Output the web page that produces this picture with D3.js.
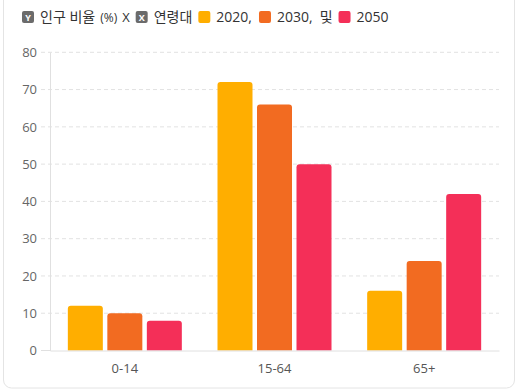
<!DOCTYPE html>
<html><head><meta charset="utf-8">
<script src="https://cdn.jsdelivr.net/npm/d3@7"></script>
<style>
html,body{margin:0;padding:0;background:#fff;}
svg{display:block;}
text{font-family:"Open Sans","Noto Sans CJK KR",sans-serif;}
</style></head>
<body><svg id="c" width="520" height="390"></svg>
<script>
const categories = ["0-14", "15-64", "65+"];
const seriesNames = ["2020", "2030", "2050"];
const values2020 = [12, 72, 16];
const values2030 = [10, 66, 24];
const values2050 = [8, 50, 42];
const yTicks = [0, 10, 20, 30, 40, 50, 60, 70, 80];
const colors = ["#FFAE00", "#F26B21", "#F42F58"];

(function () {
const seriesValues = [values2020, values2030, values2050];
const svg = d3.select("#c");

// frame
svg.append("rect").attr("x", 3.5).attr("y", -10).attr("width", 511).attr("height", 398)
  .attr("rx", 8).attr("fill", "none").attr("stroke", "#e4e4e4");

const pLeft = 50, pRight = 499, pTop = 52.3, pBottom = 350.5;
const x0 = d3.scaleBand().domain(categories).range([pLeft, pRight]).padding(0);
const barW = 35, barStep = 39.5;
const half = (barStep * 2 + barW) / 2;
const x1 = d3.scaleBand().domain(seriesNames)
  .range([-half, half])
  .paddingInner((barStep - barW) / barStep).paddingOuter(0);
const y = d3.scaleLinear().domain([0, 80]).range([pBottom, pTop]);

// grid lines
const grid = svg.append("g");
grid.selectAll("line").data(yTicks.filter(d => d > 0)).join("line")
  .attr("x1", 41).attr("x2", pRight).attr("y1", d => y(d)).attr("y2", d => y(d))
  .attr("stroke", "#e2e2e2").attr("stroke-dasharray", "4,3");

// y axis
const yAxis = d3.axisLeft(y).tickValues(yTicks).tickSize(0).tickPadding(13);
const gy = svg.append("g").attr("transform", `translate(${pLeft},0)`).call(yAxis);
gy.select(".domain").attr("stroke", "#e0e0e0");
gy.selectAll("text").attr("fill", "#666").attr("font-size", "13px");
svg.append("line").attr("x1", 41).attr("x2", pLeft).attr("y1", pBottom).attr("y2", pBottom).attr("stroke", "#e0e0e0");

// bars
const r = 3;
function barPath(x, yt, w, h) {
  const rr = Math.min(r, h);
  return `M${x},${yt + h}V${yt + rr}Q${x},${yt} ${x + rr},${yt}H${x + w - rr}Q${x + w},${yt} ${x + w},${yt + rr}V${yt + h}Z`;
}
const groups = svg.append("g").selectAll("g").data(categories).join("g")
  .attr("transform", d => `translate(${x0(d) + x0.bandwidth() / 2},0)`);
groups.selectAll("path").data((c, i) => seriesNames.map((s, j) => ({ s, j, v: seriesValues[j][i] })))
  .join("path")
  .attr("d", d => barPath(x1(d.s), y(d.v), x1.bandwidth(), pBottom - y(d.v)))
  .attr("fill", d => colors[d.j]);

// x axis
const xAxis = d3.axisBottom(x0).tickSize(0).tickPadding(13);
const gx = svg.append("g").attr("transform", `translate(0,${pBottom})`).call(xAxis);
gx.select(".domain").attr("stroke", "#e0e0e0");
gx.selectAll("text").attr("fill", "#555").attr("font-size", "13px");

// legend
const lg = svg.append("g").attr("transform", "translate(0,17)");
let lx = 22;
function icon(letter, fill) {
  lg.append("rect").attr("x", lx).attr("y", -6).attr("width", 12).attr("height", 12).attr("rx", 2).attr("fill", fill);
  if (letter) lg.append("text").attr("x", lx + 6).attr("y", 3.5).attr("text-anchor", "middle")
    .attr("font-size", "9px").attr("font-weight", "bold").attr("fill", "#fff").text(letter);
  lx += 12 + 6;
}
function label(t, size, gap) {
  const el = lg.append("text").attr("x", lx).attr("y", 5).attr("font-size", size).attr("fill", "#333").text(t);
  lx += el.node().getComputedTextLength() + gap;
}
icon("Y", "#6b6b6b");
label("인구 비율", "14px", 5);
label("(%)", "12px", 5);
label("X", "13px", 6);
icon("X", "#6b6b6b");
label("연령대", "14px", 6);
icon(null, colors[0]);
label(seriesNames[0] + ",", "14px", 7);
icon(null, colors[1]);
label(seriesNames[1] + ",", "14px", 7);
label("및", "14px", 6);
icon(null, colors[2]);
label(seriesNames[2], "14px", 6);
})();
</script></body></html>
